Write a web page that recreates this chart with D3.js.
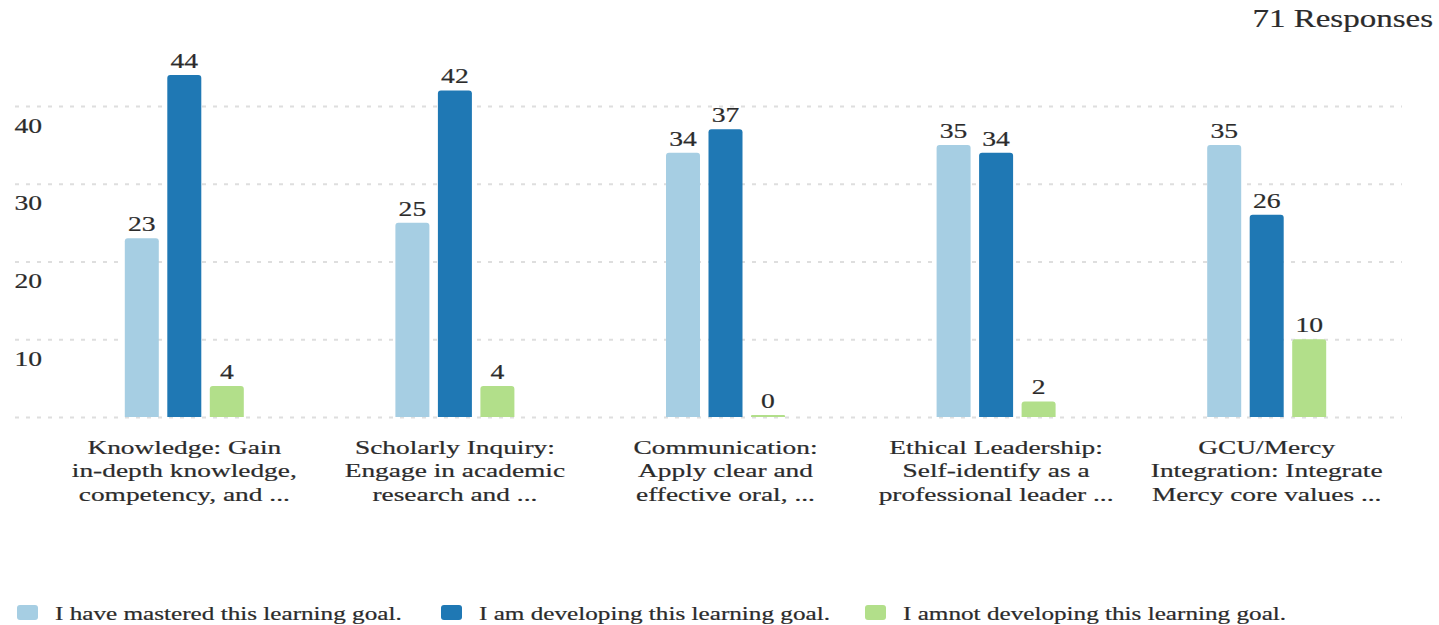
<!DOCTYPE html>
<html>
<head>
<meta charset="utf-8">
<script src="https://cdn.jsdelivr.net/npm/d3@7"></script>
<style>
  html, body { margin: 0; padding: 0; background: #fff; }
</style>
</head>
<body>
<div id="chart"></div>
<script>
// ---- data ----
const categoryLines = [
    ["Knowledge: Gain", "in-depth knowledge,", "competency, and ..."],
    ["Scholarly Inquiry:", "Engage in academic", "research and ..."],
    ["Communication:", "Apply clear and", "effective oral, ..."],
    ["Ethical Leadership:", "Self-identify as a", "professional leader ..."],
    ["GCU/Mercy", "Integration: Integrate", "Mercy core values ..."]
];
const seriesNames = [
    "I have mastered this learning goal.",
    "I am developing this learning goal.",
    "I amnot developing this learning goal."
];
const mastered = [23, 25, 34, 35, 35];
const developing = [44, 42, 37, 34, 26];
const notDeveloping = [4, 4, 0, 2, 10];
const yTicks = [10, 20, 30, 40];
const gridTicks = [0, 10, 20, 30, 40];
const responsesLabel = "71 Responses";

const colors = ["#a6cee3", "#1f78b4", "#b2df8a"];
const textColor = "#2b2b2b";
const fontFamily = '"Liberation Serif", "Times New Roman", serif';
// the reference text is drawn horizontally wider than normal
const stretch = 1.38;

const width = 1439, height = 625;
const svg = d3.select("#chart").append("svg")
    .attr("width", width)
    .attr("height", height);

const values = [mastered, developing, notDeveloping];
const groups = categoryLines.map((lines, i) => ({
    index: i,
    lines: lines,
    bars: seriesNames.map((s, j) => ({ series: s, value: values[j][i], color: colors[j] }))
}));

// ---- scales ----
const x0 = d3.scaleBand()
    .domain(d3.range(categoryLines.length))
    .range([49, 1402]);

const groupWidth = 119;
const x1 = d3.scaleBand()
    .domain(seriesNames)
    .range([(x0.bandwidth() - groupWidth) / 2, (x0.bandwidth() + groupWidth) / 2])
    .paddingInner(0.2);

const y = d3.scaleLinear()
    .domain([0, 40])
    .range([417, 106]);

// common text look (serif, slightly heavy like the reference)
function serif(sel, size) {
    return sel.style("font-family", fontFamily)
        .attr("font-size", size)
        .attr("fill", textColor)
        .attr("stroke", textColor)
        .attr("stroke-width", 0.2);
}

// place a text at (x, y) with the horizontal stretch
function stretched(sel, x, yPos, sx) {
    return sel.attr("transform", `translate(${x},${yPos}) scale(${sx || stretch},1)`);
}

// ---- grid ----
const grid = svg.append("g")
    .attr("transform", "translate(15,0)")
    .call(d3.axisRight(y).tickValues(gridTicks).tickSize(1387).tickFormat(""));
grid.select(".domain").remove();
grid.selectAll(".tick line")
    .attr("stroke", "#dedede")
    .attr("stroke-width", 2)
    .attr("stroke-dasharray", "4,7");

// ---- y labels ----
const yAxis = svg.append("g")
    .attr("transform", "translate(42,0)")
    .call(d3.axisLeft(y).tickValues(yTicks).tickSize(0).tickPadding(0));
yAxis.select(".domain").remove();
yAxis.selectAll(".tick text").each(function () {
    const t = d3.select(this);
    t.attr("x", null).attr("dy", null).attr("text-anchor", "end");
    serif(t, "20px");
    stretched(t, 0, 26);
});

// ---- bars ----
const groupSel = svg.append("g").selectAll("g.group")
    .data(groups)
    .join("g")
    .attr("class", "group")
    .attr("transform", d => `translate(${x0(d.index)},0)`);

groupSel.selectAll("path.bar")
    .data(d => d.bars)
    .join("path")
    .attr("class", "bar")
    .attr("fill", d => d.color)
    .attr("d", d => {
        const bx = x1(d.series), bw = x1.bandwidth();
        const top = Math.min(y(d.value), y(0) - 2);
        const r = Math.min(3, (y(0) - top) / 2);
        return `M${bx},${y(0)}V${top + r}Q${bx},${top} ${bx + r},${top}H${bx + bw - r}` +
            `Q${bx + bw},${top} ${bx + bw},${top + r}V${y(0)}Z`;
    });

groupSel.selectAll("text.value")
    .data(d => d.bars)
    .join("text")
    .attr("class", "value")
    .attr("text-anchor", "middle")
    .call(serif, "20px")
    .text(d => d.value)
    .each(function (d) {
        const top = Math.min(y(d.value), y(0) - 2);
        stretched(d3.select(this), x1(d.series) + x1.bandwidth() / 2, top - 7);
    });

// ---- category labels ----
groupSel.append("g")
    .attr("transform", `translate(${x0.bandwidth() / 2},454) scale(1.48,1)`)
    .selectAll("text")
    .data(d => d.lines)
    .join("text")
    .attr("text-anchor", "middle")
    .call(serif, "18.5px")
    .attr("y", (d, i) => i * 23.5)
    .text(d => d);

// ---- responses ----
stretched(svg.append("text")
    .attr("text-anchor", "end")
    .call(serif, "26px")
    .text(responsesLabel), 1433, 27, 1.27);

// ---- legend ----
const legend = svg.append("g").selectAll("g.item")
    .data(seriesNames)
    .join("g")
    .attr("class", "item")
    .attr("transform", (d, i) => `translate(${17 + i * 424},605)`);

legend.append("rect")
    .attr("width", 21)
    .attr("height", 15)
    .attr("rx", 3)
    .attr("fill", (d, i) => colors[i]);

legend.append("text")
    .call(serif, "18px")
    .text(d => d)
    .each(function () {
        stretched(d3.select(this), 38, 15, 1.4);
    });
</script>
</body>
</html>
